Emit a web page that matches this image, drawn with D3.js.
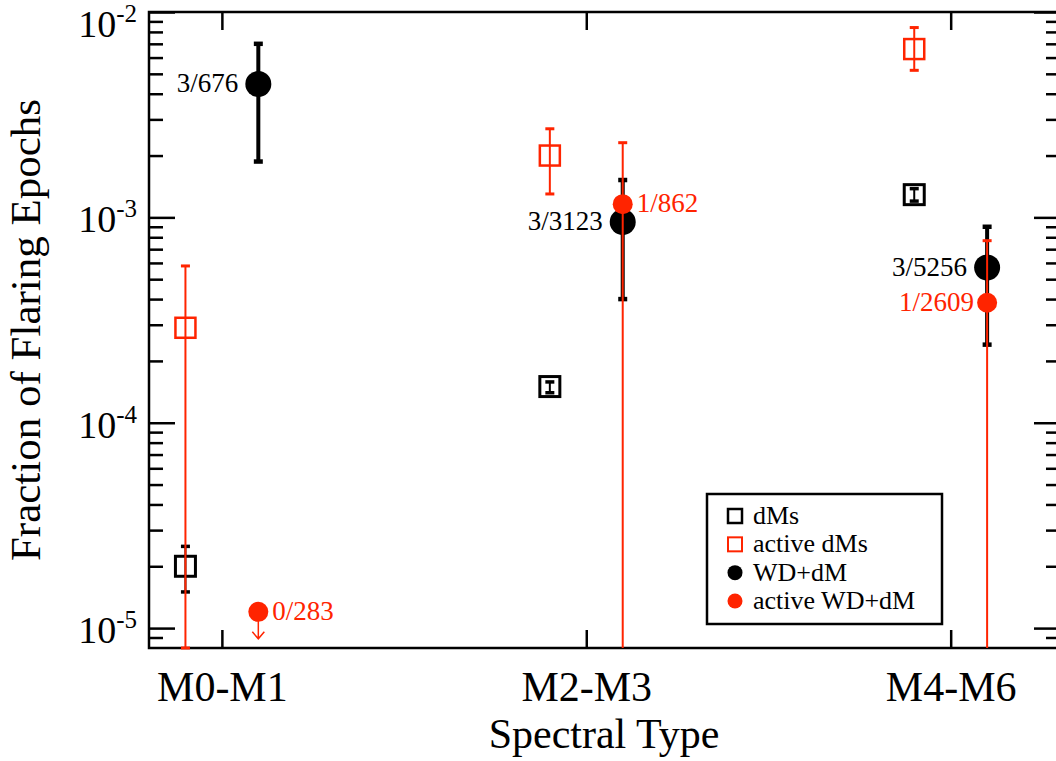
<!DOCTYPE html>
<html>
<head>
<meta charset="utf-8">
<script src="https://cdn.jsdelivr.net/npm/d3@7"></script>
<style>
  body { margin: 0; background: #fff; }
  svg { display: block; font-family: "Liberation Serif", "Times New Roman", serif; }
</style>
</head>
<body>
<div id="chart"></div>
<script>
// Spectral type bins (x positions 1, 2, 3)
const groups = ["M0-M1", "M2-M3", "M4-M6"];

// dMs (black open squares)
const dMs   = [2.0e-5, 1.5e-4, 1.29e-3];
const dMsHi = [2.5e-5, 1.58e-4, 1.38e-3];
const dMsLo = [1.5e-5, 1.4e-4, 1.2e-3];

// active dMs (red open squares)
const activeDMs   = [2.9e-4, 2.0e-3, 6.6e-3];
const activeDMsHi = [5.8e-4, 2.7e-3, 8.4e-3];
const activeDMsLo = [8.0e-6, 1.3e-3, 5.2e-3];

// WD+dM (black filled circles)
const wdDM   = [4.46e-3, 9.5e-4, 5.7e-4];
const wdDMHi = [7.0e-3, 1.52e-3, 9.0e-4];
const wdDMLo = [1.87e-3, 4.0e-4, 2.4e-4];
const wdDMLabels = ["3/676", "3/3123", "3/5256"];

// active WD+dM (red filled circles); 0 = lower error below the axis, null = upper limit
const activeWD   = [1.2e-5, 1.16e-3, 3.84e-4];
const activeWDHi = [null, 2.31e-3, 7.7e-4];
const activeWDLo = [null, 0, 0];
const activeWDUpperLimit = [true, false, false];
const activeWDLabels = ["0/283", "1/862", "1/2609"];
const activeWDLabelSide = ["right", "right", "left"];

const legendNames = ["dMs", "active dMs", "WD+dM", "active WD+dM"];
const yMajors = [1e-5, 1e-4, 1e-3, 1e-2];

const red = "#ff2400";
const width = 1056, height = 761;
const box = {left: 149, right: 1060, top: 12, bottom: 648};

const svg = d3.select("#chart").append("svg")
    .attr("width", width)
    .attr("height", height);

const x = d3.scaleLinear().domain([0.8, 3.3]).range([box.left, box.right]);
const y = d3.scaleLog().domain([8e-6, 1e-2]).range([box.bottom, box.top]);

const yMinors = y.ticks().filter(v => !yMajors.some(m => Math.abs(m - v) / m < 1e-6) && v > 8.01e-6);

// Axes: majors and minors on left and right, ticks inward
function styleAxis(g) {
    g.select(".domain").remove();
    g.selectAll(".tick line").attr("stroke", "#000").attr("stroke-width", 2.5);
}

svg.append("g")
    .attr("transform", `translate(${box.left},0)`)
    .call(d3.axisLeft(y).tickValues(yMajors).tickSize(-26).tickFormat(""))
    .call(styleAxis);
svg.append("g")
    .attr("transform", `translate(${box.left},0)`)
    .call(d3.axisLeft(y).tickValues(yMinors).tickSize(-14).tickFormat(""))
    .call(styleAxis);
svg.append("g")
    .attr("transform", `translate(${box.right},0)`)
    .call(d3.axisRight(y).tickValues(yMajors).tickSize(-26).tickFormat(""))
    .call(styleAxis);
svg.append("g")
    .attr("transform", `translate(${box.right},0)`)
    .call(d3.axisRight(y).tickValues(yMinors).tickSize(-14).tickFormat(""))
    .call(styleAxis);

// x axes (bottom with labels, top without)
const xAxisG = svg.append("g")
    .attr("transform", `translate(0,${box.bottom})`)
    .call(d3.axisBottom(x).tickValues([1, 2, 3]).tickSize(-18).tickFormat(i => groups[i - 1]))
    .call(styleAxis);
xAxisG.selectAll(".tick text")
    .attr("y", 53)
    .attr("dy", 0)
    .attr("fill", "#000")
    .style("font-size", "42px")
    .style("font-family", "Liberation Serif");

svg.append("g")
    .attr("transform", `translate(0,${box.top})`)
    .call(d3.axisTop(x).tickValues([1, 2, 3]).tickSize(-18).tickFormat(""))
    .call(styleAxis);

// y tick labels as 10^n
yMajors.forEach(v => {
    const exp = Math.round(Math.log10(v));
    const t = svg.append("text")
        .attr("x", 137)
        .attr("y", Math.max(y(v) + 15, 37))
        .attr("text-anchor", "end")
        .style("font-size", "38px");
    t.append("tspan").text("10");
    t.append("tspan")
        .attr("dy", -15)
        .style("font-size", "25px")
        .text("-" + Math.abs(exp));
});

// frame
svg.append("rect")
    .attr("x", box.left).attr("y", box.top)
    .attr("width", box.right - box.left).attr("height", box.bottom - box.top)
    .attr("fill", "none")
    .attr("stroke", "#000")
    .attr("stroke-width", 2.5);

// axis titles
svg.append("text")
    .attr("transform", `translate(40,330) rotate(-90)`)
    .attr("text-anchor", "middle")
    .style("font-size", "43px")
    .text("Fraction of Flaring Epochs");

svg.append("text")
    .attr("x", 604)
    .attr("y", 748)
    .attr("text-anchor", "middle")
    .style("font-size", "42px")
    .text("Spectral Type");

const plot = svg.append("g");

// error bar helper
function errorBar(cx, hi, lo, color, lineW, capW, capStroke) {
    const yHi = hi == null ? null : y(hi);
    const yLo = lo == null ? null : (lo <= 0 ? box.bottom : y(lo));
    if (yHi != null && yLo != null) {
        plot.append("line")
            .attr("x1", cx).attr("x2", cx)
            .attr("y1", yHi).attr("y2", yLo)
            .attr("stroke", color).attr("stroke-width", lineW);
    }
    if (yHi != null) {
        plot.append("line")
            .attr("x1", cx - capW / 2).attr("x2", cx + capW / 2)
            .attr("y1", yHi).attr("y2", yHi)
            .attr("stroke", color).attr("stroke-width", capStroke);
    }
    if (lo != null && lo > 0) {
        plot.append("line")
            .attr("x1", cx - capW / 2).attr("x2", cx + capW / 2)
            .attr("y1", yLo).attr("y2", yLo)
            .attr("stroke", color).attr("stroke-width", capStroke);
    }
}

const off = 0.1;

// dMs
groups.forEach((g, i) => {
    const cx = x(i + 1 - off);
    errorBar(cx, dMsHi[i], dMsLo[i], "#000", 2, 9, 3.5);
    plot.append("rect")
        .attr("x", cx - 10).attr("y", y(dMs[i]) - 10)
        .attr("width", 20).attr("height", 20)
        .attr("fill", "none").attr("stroke", "#000").attr("stroke-width", 3);
});

// active dMs
groups.forEach((g, i) => {
    const cx = x(i + 1 - off);
    errorBar(cx, activeDMsHi[i], activeDMsLo[i], red, 2, 9, 3);
    plot.append("rect")
        .attr("x", cx - 10).attr("y", y(activeDMs[i]) - 10)
        .attr("width", 20).attr("height", 20)
        .attr("fill", "none").attr("stroke", red).attr("stroke-width", 2.5);
});

// WD+dM
groups.forEach((g, i) => {
    const cx = x(i + 1 + off);
    errorBar(cx, wdDMHi[i], wdDMLo[i], "#000", 4, 9, 4.5);
    plot.append("circle")
        .attr("cx", cx).attr("cy", y(wdDM[i])).attr("r", 13)
        .attr("fill", "#000");
    plot.append("text")
        .attr("x", cx - 20).attr("y", y(wdDM[i]) + 8)
        .attr("text-anchor", "end")
        .style("font-size", "27px")
        .text(wdDMLabels[i]);
});

// active WD+dM
groups.forEach((g, i) => {
    const cx = x(i + 1 + off);
    const cy = y(activeWD[i]);
    errorBar(cx, activeWDHi[i], activeWDLo[i], red, 2, 9, 3);
    if (activeWDUpperLimit[i]) {
        const tip = cy + 27;
        plot.append("path")
            .attr("d", `M${cx},${cy} L${cx},${tip} M${cx - 6},${tip - 7} L${cx},${tip} L${cx + 6},${tip - 7}`)
            .attr("fill", "none").attr("stroke", red).attr("stroke-width", 1.5);
    }
    plot.append("circle")
        .attr("cx", cx).attr("cy", cy).attr("r", 10)
        .attr("fill", red);
    const rightSide = activeWDLabelSide[i] === "right";
    plot.append("text")
        .attr("x", rightSide ? cx + 14 : cx - 13)
        .attr("y", cy + 8)
        .attr("text-anchor", rightSide ? "start" : "end")
        .attr("fill", red)
        .style("font-size", "27px")
        .text(activeWDLabels[i]);
});

// legend
const legend = svg.append("g");
legend.append("rect")
    .attr("x", 707).attr("y", 494)
    .attr("width", 235).attr("height", 130)
    .attr("fill", "#fff").attr("stroke", "#000").attr("stroke-width", 2.5);

const legendY = d3.scalePoint().domain(legendNames).range([516, 601]);
legendNames.forEach((name, i) => {
    const ly = legendY(name);
    if (i < 2) {
        legend.append("rect")
            .attr("x", 728).attr("y", ly - 7)
            .attr("width", 14).attr("height", 14)
            .attr("fill", "none")
            .attr("stroke", i === 0 ? "#000" : red)
            .attr("stroke-width", i === 0 ? 2.5 : 2);
    } else {
        legend.append("circle")
            .attr("cx", 735).attr("cy", ly).attr("r", 7.5)
            .attr("fill", i === 2 ? "#000" : red);
    }
    legend.append("text")
        .attr("x", 753).attr("y", ly + 8)
        .style("font-size", "26px")
        .text(name);
});
</script>
</body>
</html>
